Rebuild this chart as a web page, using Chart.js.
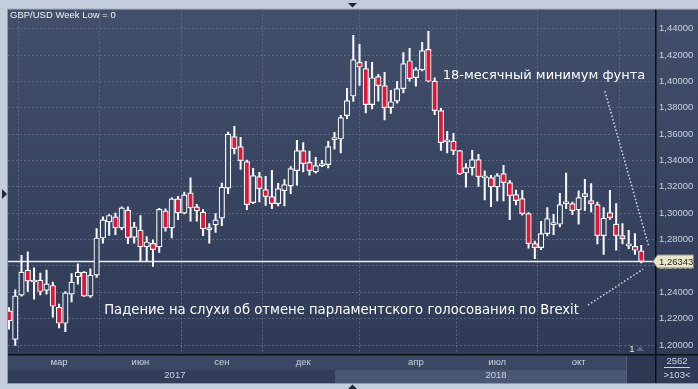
<!DOCTYPE html>
<html>
<head>
<meta charset="utf-8">
<script src="https://cdn.jsdelivr.net/npm/chart.js@4.4.1/dist/chart.umd.min.js"></script>
<style>
  html, body { margin: 0; padding: 0; background: #c3cddb; }
  #wrap { width: 698px; height: 389px; }
</style>
</head>
<body>
<div id="wrap"><canvas id="gbpChart" width="698" height="389"></canvas></div>
<script>
// Weekly GBP/USD candles, Jan 2017 - Dec 2018
const opens = [
  1.2259, 1.2043, 1.2378, 1.2569, 1.2478, 1.2492, 1.2414, 1.2452, 1.2287, 1.2165,
  1.2386, 1.2518, 1.2553, 1.2371, 1.2530, 1.2812, 1.2934, 1.2972, 1.2888, 1.3023,
  1.2817, 1.2871, 1.2744, 1.2772, 1.2744, 1.3018, 1.2888, 1.3109, 1.3000, 1.3155,
  1.3048, 1.3008, 1.2873, 1.2911, 1.2962, 1.3190, 1.3581, 1.3505, 1.3391, 1.3080,
  1.3278, 1.3179, 1.3126, 1.3073, 1.3171, 1.3207, 1.3323, 1.3475, 1.3386, 1.3313,
  1.3361, 1.3369, 1.3558, 1.3563, 1.3740, 1.3889, 1.4145, 1.4097, 1.3824, 1.4036,
  1.3968, 1.3801, 1.3851, 1.3945, 1.4157, 1.4028, 1.4087, 1.4243, 1.4003, 1.3778,
  1.3541, 1.3546, 1.3475, 1.3305, 1.3346, 1.3407, 1.3268, 1.3270, 1.3199, 1.3300,
  1.3232, 1.3141, 1.3111, 1.2997, 1.2769, 1.2739, 1.2845, 1.2913, 1.2916, 1.3073,
  1.3073, 1.3025, 1.3126, 1.3096, 1.3065, 1.2830, 1.3004, 1.2918, 1.2830, 1.2752,
  1.2749, 1.2714
];
const highs = [
  1.2285, 1.2419, 1.2680, 1.2708, 1.2586, 1.2546, 1.2568, 1.2477, 1.2310, 1.2406,
  1.2543, 1.2617, 1.2558, 1.2579, 1.2883, 1.2972, 1.2990, 1.3002, 1.3048, 1.3048,
  1.2931, 1.2982, 1.2822, 1.2799, 1.3038, 1.3033, 1.3117, 1.3129, 1.3160, 1.3269,
  1.3068, 1.3028, 1.2921, 1.2997, 1.3228, 1.3615, 1.3659, 1.3576, 1.3404, 1.3341,
  1.3311, 1.3280, 1.3326, 1.3227, 1.3255, 1.3353, 1.3553, 1.3535, 1.3472, 1.3424,
  1.3401, 1.3546, 1.3614, 1.3743, 1.3947, 1.4349, 1.4281, 1.4152, 1.4145, 1.4054,
  1.4069, 1.3932, 1.4001, 1.4218, 1.4251, 1.4104, 1.4296, 1.4380, 1.4028, 1.3796,
  1.3622, 1.3606, 1.3478, 1.3376, 1.3477, 1.3447, 1.3321, 1.3288, 1.3300, 1.3364,
  1.3250, 1.3176, 1.3174, 1.3005, 1.2789, 1.2939, 1.3042, 1.2992, 1.3151, 1.3305,
  1.3085, 1.3169, 1.3257, 1.3224, 1.3085, 1.3042, 1.3174, 1.3073, 1.2921, 1.2871,
  1.2845, 1.2757
];
const lows = [
  1.2120, 1.1997, 1.2370, 1.2406, 1.2348, 1.2381, 1.2386, 1.2211, 1.2129, 1.2102,
  1.2327, 1.2462, 1.2368, 1.2361, 1.2513, 1.2772, 1.2832, 1.2837, 1.2876, 1.2769,
  1.2772, 1.2634, 1.2634, 1.2596, 1.2703, 1.2863, 1.2812, 1.2952, 1.2995, 1.2939,
  1.2939, 1.2830, 1.2772, 1.2855, 1.2905, 1.3149, 1.3450, 1.3333, 1.3027, 1.3073,
  1.3085, 1.3060, 1.3035, 1.3055, 1.3055, 1.3149, 1.3212, 1.3313, 1.3288, 1.3303,
  1.3353, 1.3343, 1.3485, 1.3457, 1.3717, 1.3849, 1.3970, 1.3760, 1.3791, 1.3851,
  1.3707, 1.3758, 1.3834, 1.3912, 1.4001, 1.3963, 1.4079, 1.3996, 1.3748, 1.3477,
  1.3457, 1.3444, 1.3293, 1.3197, 1.3288, 1.3204, 1.3101, 1.3050, 1.3093, 1.3093,
  1.2952, 1.3063, 1.2985, 1.2734, 1.2656, 1.2724, 1.2827, 1.2838, 1.2896, 1.3035,
  1.2989, 1.2916, 1.3022, 1.3010, 1.2768, 1.2688, 1.2953, 1.2719, 1.2768, 1.2731,
  1.2688, 1.2623
];
const closes = [
  1.2183, 1.2373, 1.2553, 1.2485, 1.2482, 1.2406, 1.2464, 1.2294, 1.2165, 1.2396,
  1.2477, 1.2553, 1.2371, 1.2530, 1.2812, 1.2949, 1.2983, 1.2888, 1.3041, 1.2815,
  1.2896, 1.2744, 1.2782, 1.2723, 1.3030, 1.2888, 1.3109, 1.3002, 1.3140, 1.3040,
  1.3018, 1.2881, 1.2891, 1.2949, 1.3197, 1.3600, 1.3490, 1.3399, 1.3065, 1.3285,
  1.3187, 1.3126, 1.3073, 1.3187, 1.3217, 1.3338, 1.3475, 1.3376, 1.3323, 1.3361,
  1.3369, 1.3505, 1.3566, 1.3725, 1.3854, 1.4165, 1.4109, 1.3824, 1.4028, 1.3968,
  1.3801, 1.3846, 1.3945, 1.4135, 1.4021, 1.4089, 1.4233, 1.4001, 1.3778, 1.3535,
  1.3546, 1.3475, 1.3298, 1.3346, 1.3407, 1.3278, 1.3272, 1.3199, 1.3285, 1.3232,
  1.3133, 1.3096, 1.2997, 1.2769, 1.2739, 1.2845, 1.2959, 1.2918, 1.3065, 1.3080,
  1.3020, 1.3118, 1.3149, 1.3073, 1.2830, 1.2962, 1.2966, 1.2830, 1.2807, 1.2756,
  1.2719, 1.26343
];

// axis labels
const monthTicks = [8, 21, 34, 47, 65, 78, 91];
const monthLabels = ["мар", "июн", "сен", "дек", "апр", "июл", "окт"];
const yearTicks = [26.5, 77.8];
const yearLabels = ["2017", "2018"];
const priceTicks = [1.20, 1.22, 1.24, 1.26, 1.28, 1.30, 1.32, 1.34, 1.36, 1.38, 1.40, 1.42, 1.44];

// annotations (in data units)
const noteTop = { text: "18-месячный минимум фунта", x: 69.3, y: 1.4047 };
const noteBottom = { text: "Падение на слухи об отмене парламентского голосования по Brexit", x: 15.2, y: 1.2265 };
const arrowTop = [[95.2, 1.3925], [102.2, 1.2750]];
const arrowBottom = [[92.5, 1.2303], [101.3, 1.2576]];

const UI_FONT = "'Liberation Sans', Arial, sans-serif";
const LABEL_COLOR = "#c9d3e4";
const RED = "#e01538";

function plotGradient(chart) {
  const area = chart.chartArea;
  const g = chart.ctx.createLinearGradient(0, area.top, 0, area.bottom);
  g.addColorStop(0, "#424f6b");
  g.addColorStop(1, "#2e3a56");
  return g;
}

// Background, panels and frame
const framePlugin = {
  id: "frame",
  beforeDraw(chart) {
    const { ctx, chartArea: a } = chart;
    const W = chart.width;
    ctx.save();
    ctx.fillStyle = "#c3cddb";
    ctx.fillRect(0, 0, W, chart.height);
    ctx.fillStyle = "#8e99ab";
    ctx.fillRect(a.left - 1, a.top - 1, W - a.left + 1, 383 - a.top + 2);
    ctx.fillStyle = plotGradient(chart);
    ctx.fillRect(a.left, a.top, W - a.left, a.bottom - a.top);
    // bottom strip: months, years, scroll thumb
    ctx.fillStyle = "#3b4864";
    ctx.fillRect(a.left, a.bottom, a.right - a.left, 16);
    ctx.fillStyle = "#323e59";
    ctx.fillRect(a.left, a.bottom + 16, a.right - a.left, 383 - a.bottom - 16);
    ctx.fillStyle = "#4a5774";
    ctx.fillRect(335, a.bottom + 16, 292, 383 - a.bottom - 16);
    ctx.fillStyle = "#2d3852";
    ctx.fillRect(627, a.bottom + 1, a.right - 627, 383 - a.bottom - 1);
    ctx.fillStyle = "#56627c";
    ctx.fillRect(626, a.bottom + 2, 1, 26);
    ctx.fillStyle = "#2f3b56";
    ctx.fillRect(a.right, a.bottom, W - a.right, 383 - a.bottom);
    // black separators
    ctx.fillStyle = "#0c0f16";
    ctx.fillRect(a.right, a.top, 1.5, 383 - a.top);
    ctx.fillRect(a.left, a.bottom, W - a.left, 1.5);
    // small triangles on the frame
    ctx.fillStyle = "#1e2638";
    ctx.beginPath();
    ctx.moveTo(348, 3); ctx.lineTo(357, 3); ctx.lineTo(352.5, 7.5); ctx.closePath(); ctx.fill();
    ctx.beginPath();
    ctx.moveTo(348, 389); ctx.lineTo(357, 389); ctx.lineTo(352.5, 384.5); ctx.closePath(); ctx.fill();
    ctx.beginPath();
    ctx.moveTo(2, 189); ctx.lineTo(2, 199); ctx.lineTo(7, 194); ctx.closePath(); ctx.fill();
    ctx.restore();
  },
  beforeDatasetsDraw(chart) {
    const { ctx, chartArea: a, scales } = chart;
    const y = Math.round(scales.y.getPixelForValue(closes[closes.length - 1])) + 0.5;
    ctx.save();
    ctx.strokeStyle = "#eef0f4";
    ctx.lineWidth = 1.5;
    ctx.beginPath();
    ctx.moveTo(a.left, y);
    ctx.lineTo(a.right, y);
    ctx.stroke();
    ctx.restore();
  },
  afterDraw(chart) {
    const { ctx, chartArea: a, scales } = chart;
    const xs = scales.x, ys = scales.y;
    ctx.save();
    // title
    ctx.fillStyle = "#f2f4f8";
    ctx.font = "9.5px " + UI_FONT;
    ctx.textBaseline = "middle";
    ctx.textAlign = "left";
    ctx.fillText("GBP/USD Week Low = 0", 10, 15);

    // year labels
    ctx.fillStyle = LABEL_COLOR;
    ctx.textAlign = "center";
    yearTicks.forEach((v, i) => ctx.fillText(yearLabels[i], xs.getPixelForValue(v), a.bottom + 21));

    // corner box
    ctx.fillText("2562", 677, a.bottom + 7);
    ctx.fillRect(664, a.bottom + 13, 26, 1);
    ctx.fillText(">103<", 677, a.bottom + 21);

    // "1" marker
    ctx.fillStyle = "#e6e9ef";
    ctx.fillText("1", 632, 349);
    ctx.fillStyle = "#5a6680";
    ctx.beginPath();
    ctx.moveTo(636, 351); ctx.lineTo(644, 351); ctx.lineTo(640, 346); ctx.closePath(); ctx.fill();

    // price tag
    const last = closes[closes.length - 1];
    const py = ys.getPixelForValue(last);
    ctx.fillStyle = "#eae6c8";
    ctx.strokeStyle = "#8d8770";
    ctx.lineWidth = 1;
    ctx.beginPath();
    ctx.moveTo(a.right - 2, py);
    ctx.lineTo(a.right + 2.5, py - 6.5);
    ctx.lineTo(693.5, py - 6.5);
    ctx.lineTo(693.5, py + 6.5);
    ctx.lineTo(a.right + 2.5, py + 6.5);
    ctx.closePath();
    ctx.fill();
    ctx.stroke();
    ctx.fillStyle = "#262626";
    ctx.textAlign = "left";
    ctx.fillText(last.toFixed(5).replace(".", ","), a.right + 4, py + 0.5);

    // notes
    ctx.fillStyle = "#ffffff";
    ctx.font = "13px 'DejaVu Sans', sans-serif";
    ctx.fillText(noteTop.text, xs.getPixelForValue(noteTop.x), ys.getPixelForValue(noteTop.y));
    ctx.font = "13.2px 'DejaVu Sans', sans-serif";
    ctx.fillText(noteBottom.text, xs.getPixelForValue(noteBottom.x), ys.getPixelForValue(noteBottom.y));

    // dotted pointers
    ctx.strokeStyle = "#c9ced8";
    ctx.lineWidth = 1.6;
    ctx.setLineDash([1.6, 2]);
    [arrowTop, arrowBottom].forEach(seg => {
      ctx.beginPath();
      ctx.moveTo(xs.getPixelForValue(seg[0][0]), ys.getPixelForValue(seg[0][1]));
      ctx.lineTo(xs.getPixelForValue(seg[1][0]), ys.getPixelForValue(seg[1][1]));
      ctx.stroke();
    });
    ctx.restore();
  }
};

const idx = opens.map((_, i) => i);

const ctx = document.getElementById("gbpChart").getContext("2d");
new Chart(ctx, {
  type: "bar",
  data: {
    datasets: [
      {
        // candle bodies
        data: idx.map(i => ({ x: i, y: [opens[i], closes[i]] })),
        barThickness: 5.5,
        minBarLength: 2,
        borderWidth: 1.2,
        borderSkipped: false,
        borderColor: "#f7f8fa",
        backgroundColor: (c) => {
          const i = c.dataIndex;
          if (closes[i] < opens[i]) return RED;
          return c.chart.chartArea ? plotGradient(c.chart) : "#38455f";
        },
        grouped: false,
        order: 0
      },
      {
        // wicks
        data: idx.map(i => ({ x: i, y: [lows[i], highs[i]] })),
        barThickness: 1.4,
        borderWidth: 0,
        backgroundColor: "#f7f8fa",
        grouped: false,
        order: 1
      }
    ]
  },
  options: {
    responsive: false,
    animation: false,
    layout: { padding: { left: 8, top: 9, right: 0, bottom: 6 } },
    plugins: {
      legend: { display: false },
      tooltip: { enabled: false }
    },
    scales: {
      x: {
        type: "linear",
        offset: false,
        min: -0.16,
        max: 103.2,
        afterBuildTicks: (s) => { s.ticks = monthTicks.map(v => ({ value: v })); },
        afterFit: (s) => { s.height = 29; },
        grid: { color: "#5a6682", lineWidth: 1, drawTicks: false },
        border: { display: false, dash: [2, 2] },
        ticks: {
          autoSkip: false,
          maxRotation: 0,
          padding: 3,
          color: LABEL_COLOR,
          font: { family: UI_FONT, size: 9.5 },
          callback: (v, i) => monthLabels[i]
        }
      },
      y: {
        position: "right",
        min: 1.1932,
        max: 1.4544,
        afterBuildTicks: (s) => { s.ticks = priceTicks.map(v => ({ value: v })); },
        afterFit: (s) => { s.width = 43; },
        grid: { color: "#5a6682", lineWidth: 1, drawTicks: false },
        border: { display: false, dash: [2, 2] },
        ticks: {
          padding: 4,
          color: LABEL_COLOR,
          font: { family: UI_FONT, size: 9.5 },
          callback: (v) => Number(v).toFixed(5).replace(".", ",")
        }
      }
    }
  },
  plugins: [framePlugin]
});
</script>
</body>
</html>
